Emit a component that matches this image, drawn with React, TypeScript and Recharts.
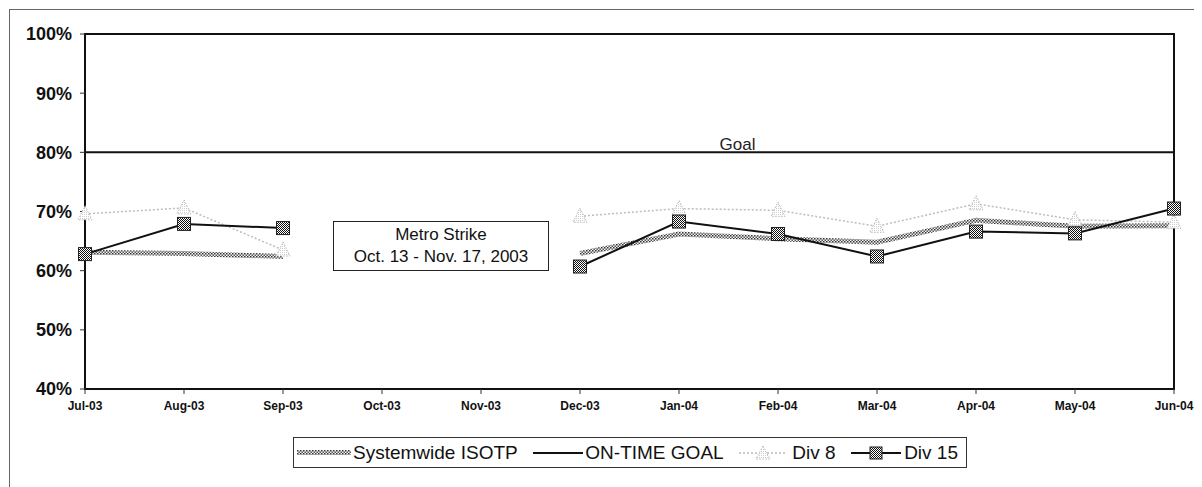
import React from "react";
import {
  LineChart, Line, XAxis, YAxis, Legend, ReferenceArea, ReferenceLine
} from "recharts";

const months = [
  "Jul-03", "Aug-03", "Sep-03", "Oct-03", "Nov-03", "Dec-03",
  "Jan-04", "Feb-04", "Mar-04", "Apr-04", "May-04", "Jun-04"
];
const systemwide = [63.1, 62.9, 62.4, null, null, 62.9, 66.2, 65.4, 64.8, 68.5, 67.5, 67.6];
const onTimeGoal = [80, 80, 80, 80, 80, 80, 80, 80, 80, 80, 80, 80];
const div8 = [69.6, 70.6, 63.5, null, null, 69.2, 70.5, 70.2, 67.5, 71.3, 68.6, 68.2];
const div15 = [62.8, 67.9, 67.2, null, null, 60.7, 68.3, 66.2, 62.4, 66.6, 66.3, 70.5];
const yTicks = [40, 50, 60, 70, 80, 90, 100];

const data = months.map((m, i) => ({
  month: m,
  systemwide: systemwide[i],
  goal: onTimeGoal[i],
  div8: div8[i],
  div15: div15[i]
}));

const FONT = "Arial, 'Liberation Sans', sans-serif";

const Square = ({ cx, cy }: any) => {
  if (cx == null || cy == null) return null;
  return <rect x={cx - 6.5} y={cy - 6.5} width={13} height={13} fill="url(#checker)" stroke="#222" strokeWidth={1} />;
};

const Triangle = ({ cx, cy }: any) => {
  if (cx == null || cy == null) return null;
  return (
    <path
      d={`M${cx},${cy - 8} L${cx + 7},${cy + 6} L${cx - 7},${cy + 6} Z`}
      fill="url(#lightdots)" stroke="#b8b8b8" strokeWidth={1} strokeDasharray="1.5 1.5"
    />
  );
};

const LegendBox = () => (
  <div style={{
    border: "1px solid #333", height: 31, display: "flex", alignItems: "center",
    justifyContent: "space-between", fontFamily: FONT, fontSize: 19, color: "#111",
    boxSizing: "border-box", paddingLeft: 3, paddingRight: 8
  }}>
    <span style={{ display: "flex", alignItems: "center" }}>
      <svg width={54} height={12}>
        <rect x={0} y={3} width={54} height={5} fill="url(#hatch)" />
      </svg>
      <span style={{ marginLeft: 2 }}>Systemwide ISOTP</span>
    </span>
    <span style={{ display: "flex", alignItems: "center" }}>
      <svg width={50} height={12}>
        <line x1={0} y1={6} x2={50} y2={6} stroke="#111" strokeWidth={2} />
      </svg>
      <span style={{ marginLeft: 2 }}>ON-TIME GOAL</span>
    </span>
    <span style={{ display: "flex", alignItems: "center" }}>
      <svg width={48} height={16}>
        <line x1={0} y1={8} x2={48} y2={8} stroke="#bbb" strokeWidth={1.5} strokeDasharray="2 2" />
        <path d="M24,1 L31,14 L17,14 Z" fill="url(#lightdots)" stroke="#b8b8b8" strokeDasharray="1.5 1.5" />
      </svg>
      <span style={{ marginLeft: 5 }}>Div 8</span>
    </span>
    <span style={{ display: "flex", alignItems: "center" }}>
      <svg width={50} height={16}>
        <line x1={0} y1={8} x2={50} y2={8} stroke="#111" strokeWidth={2} />
        <rect x={19} y={2} width={12} height={12} fill="url(#checker)" stroke="#222" />
      </svg>
      <span style={{ marginLeft: 3 }}>Div 15</span>
    </span>
  </div>
);

export default function App() {
  return (
    <div style={{
      position: "relative", width: 1194, height: 479, marginLeft: 1, marginTop: 1,
      borderLeft: "1px solid #666", borderTop: "1px solid #666", background: "#fff"
    }}>
      <LineChart
        width={1190}
        height={477}
        data={data}
        margin={{ top: 24, right: 26, left: 0, bottom: 37 }}
      >
        <defs>
          <pattern id="checker" width={2} height={2} patternUnits="userSpaceOnUse">
            <rect width={2} height={2} fill="#fff" />
            <rect width={1} height={1} fill="#111" />
            <rect x={1} y={1} width={1} height={1} fill="#111" />
          </pattern>
          <pattern id="hatch" width={3} height={3} patternUnits="userSpaceOnUse">
            <rect width={3} height={3} fill="#f2f2f2" />
            <rect width={1.5} height={1.5} fill="#333" />
            <rect x={1.5} y={1.5} width={1.5} height={1.5} fill="#555" />
          </pattern>
          <pattern id="lightdots" width={2} height={2} patternUnits="userSpaceOnUse">
            <rect width={2} height={2} fill="#fff" />
            <rect width={1} height={1} fill="#cfcfcf" />
          </pattern>
        </defs>
        <XAxis
          dataKey="month"
          height={30}
          tickSize={5}
          tickMargin={7}
          interval={0}
          axisLine={{ stroke: "#111", strokeWidth: 2 }}
          tickLine={{ stroke: "#333" }}
          tick={{ fill: "#111", fontSize: 12, fontWeight: 700, fontFamily: FONT }}
        />
        <YAxis
          domain={[40, 100]}
          ticks={yTicks}
          width={75}
          tickSize={5}
          tickMargin={8}
          tickFormatter={(v: number) => `${v}%`}
          axisLine={{ stroke: "#111", strokeWidth: 2 }}
          tickLine={{ stroke: "#333" }}
          tick={{ fill: "#111", fontSize: 18, fontWeight: 700, fontFamily: FONT }}
        />
        <ReferenceArea
          x1="Jul-03" x2="Jun-04" y1={40} y2={100}
          fill="none" stroke="#111" strokeWidth={2} ifOverflow="visible"
        />
        <ReferenceLine
          y={80} stroke="none"
          label={{ value: "Goal", position: "top", dx: 108, offset: 2, fill: "#222", fontSize: 17, fontFamily: FONT }}
        />
        <Line
          name="Systemwide ISOTP" dataKey="systemwide" stroke="url(#hatch)" strokeWidth={5}
          dot={false} activeDot={false} isAnimationActive={false} type="linear"
        />
        <Line
          name="ON-TIME GOAL" dataKey="goal" stroke="#111" strokeWidth={2}
          dot={false} activeDot={false} isAnimationActive={false} type="linear"
        />
        <Line
          name="Div 8" dataKey="div8" stroke="#bdbdbd" strokeWidth={1.5} strokeDasharray="2 2"
          dot={<Triangle />} activeDot={false} isAnimationActive={false} type="linear"
        />
        <Line
          name="Div 15" dataKey="div15" stroke="#111" strokeWidth={2}
          dot={<Square />} activeDot={false} isAnimationActive={false} type="linear"
        />
        <Legend
          verticalAlign="bottom"
          content={<LegendBox />}
          wrapperStyle={{ left: 283, top: 427, width: 674, height: 31 }}
        />
      </LineChart>
      <div style={{
        position: "absolute", left: 323, top: 211, width: 216, height: 50,
        border: "1.5px solid #222", background: "#fff", fontFamily: FONT, fontSize: 17,
        color: "#111", textAlign: "center", lineHeight: "22px", paddingTop: 2, boxSizing: "border-box"
      }}>
        <div>Metro Strike</div>
        <div>Oct. 13 - Nov. 17, 2003</div>
      </div>
    </div>
  );
}
